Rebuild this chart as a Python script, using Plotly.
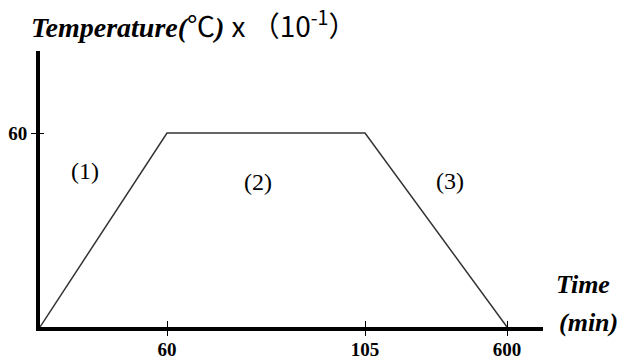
import plotly.graph_objects as go

# Schematic temperature profile (stage positions on a non-linear time axis)
time_labels = ["0", "60", "105", "600"]
stage_pos = [0, 127, 325, 467]          # horizontal placement of each time mark on the schematic axis
temperature = [0, 60, 60, 0]            # temperature (°C x 10^-1)
stage_names = ["(1)", "(2)", "(3)"]

OFF = 8  # browser default body margin
L, R, T, B = 40 - OFF, 543 - OFF, 51 - OFF, 327 - OFF
W, H = 627 - OFF, 361 - OFF
def px(x):
    return (x - OFF - L) / (R - L)
def py(y):
    return (B - (y - OFF)) / (B - T)

y_top = 60 * (B - T) / (327 - 133)

fig = go.Figure()
fig.add_trace(go.Scatter(x=stage_pos, y=temperature, mode="lines",
                         line=dict(color="#333333", width=1.5), hoverinfo="skip"))

serif = "Liberation Serif, Times New Roman, serif"
ann = []
ann.append(dict(xref="paper", yref="paper", x=px(29), y=py(23), xanchor="left", yanchor="middle",
                text="<b><i>Temperature(</i></b><span style='font-family:Noto Sans CJK SC'>℃</span><b><i>)</i></b> "
                     "<span style='font-family:Noto Sans CJK SC'>x （10<sup>-1</sup>）</span>",
                showarrow=False, font=dict(family=serif, size=28, color="black")))
ann.append(dict(xref="paper", yref="paper", x=px(583), y=py(284), xanchor="center", yanchor="middle",
                text="<b><i>Time</i></b>", showarrow=False, font=dict(family=serif, size=26, color="black")))
ann.append(dict(xref="paper", yref="paper", x=px(588), y=py(322), xanchor="center", yanchor="middle",
                text="<b><i>(min)</i></b>", showarrow=False, font=dict(family=serif, size=26, color="black")))
for name, (ax, ay) in zip(stage_names, [(85, 171), (258, 182), (450, 181)]):
    ann.append(dict(xref="paper", yref="paper", x=px(ax), y=py(ay), xanchor="center", yanchor="middle",
                    text=name, showarrow=False, font=dict(family=serif, size=24, color="black")))

fig.update_layout(
    width=W, height=H,
    margin=dict(l=L, r=W - R, t=T, b=H - B),
    paper_bgcolor="white", plot_bgcolor="white",
    showlegend=False,
    annotations=ann,
    xaxis=dict(range=[0, R - L], showgrid=False, zeroline=False, showline=True, linecolor="black",
               linewidth=4, tickmode="array", tickvals=stage_pos[1:],
               ticktext=["<b>%s</b>" % t for t in time_labels[1:]],
               ticks="outside", ticklen=5, tickwidth=1, tickcolor="black", automargin=False,
               ticklabelstandoff=-3,
               tickfont=dict(family=serif, size=19, color="black")),
    yaxis=dict(range=[0, y_top], showgrid=False, zeroline=False, showline=True,
               linecolor="black", linewidth=4, tickmode="array", tickvals=[60], ticktext=["<b>60</b>"],
               ticks="outside", ticklen=5, tickwidth=1, tickcolor="black", automargin=False,
               tickfont=dict(family=serif, size=19, color="black")),
    xaxis2=dict(overlaying="x", matches="x", side="bottom", range=[0, R - L], showgrid=False,
                zeroline=False, showline=False, tickmode="array", tickvals=stage_pos[1:],
                showticklabels=False, ticks="inside", ticklen=6, tickwidth=1, tickcolor="black",
                automargin=False),
    yaxis2=dict(overlaying="y", matches="y", side="left", range=[0, y_top], showgrid=False,
                zeroline=False, showline=False, tickmode="array", tickvals=[60],
                showticklabels=False, ticks="inside", ticklen=4, tickwidth=1, tickcolor="black",
                automargin=False),
)
fig.add_trace(go.Scatter(x=[], y=[], xaxis="x2", yaxis="y2", hoverinfo="skip"))
fig.write_html("out.html")
